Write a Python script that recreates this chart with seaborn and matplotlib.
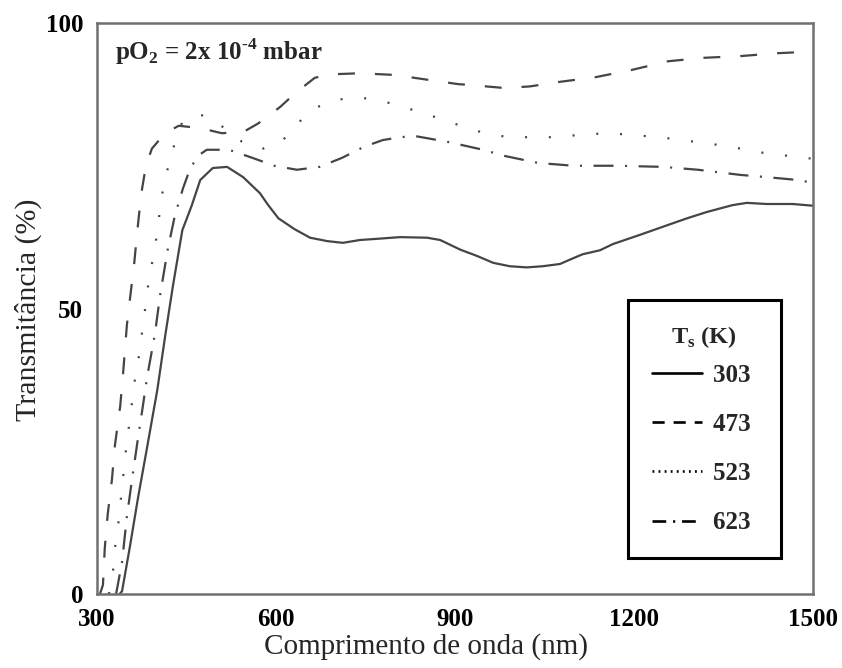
import numpy as np
import pandas as pd
import matplotlib
matplotlib.use("Agg")
import matplotlib.pyplot as plt
import seaborn as sns
from matplotlib.lines import Line2D

# ---------------- data ----------------
wl_303 = [338, 342, 355, 369, 384, 401, 414, 427, 443, 459, 473, 494, 518, 545,
          573, 587, 604, 631, 657, 686, 712, 741, 769, 808, 853, 875, 909, 937,
          964, 992, 1020, 1047, 1076, 1098, 1114, 1143, 1165, 1210, 1248, 1289,
          1322, 1365, 1389, 1422, 1466, 1500]
T_303 = [0, 0.5, 8.2, 17, 25.7, 35.7, 45, 53.8, 63.7, 68.1, 72.5, 74.6, 74.8, 73,
         70.2, 68.1, 65.8, 63.9, 62.4, 61.8, 61.5, 62, 62.2, 62.5, 62.4, 62,
         60.3, 59.2, 58, 57.4, 57.2, 57.4, 57.8, 58.8, 59.5, 60.2, 61.3, 62.9,
         64.3, 65.8, 66.9, 68.1, 68.5, 68.3, 68.3, 68.0]

wl_473 = [305, 310, 313, 318, 325, 330, 339, 344, 350, 355, 362, 367, 374, 382,
          392, 414, 437, 473, 509, 545, 570, 607, 632, 665, 690, 741, 799, 858,
          905, 930, 984, 1026, 1076, 1135, 1197, 1257, 1316, 1378, 1438, 1500]
T_473 = [0, 1.6, 8, 14, 20, 26, 33, 39, 47, 51.5, 57.5, 63, 70, 75, 78, 80.7,
         82, 81.6, 80.7, 80.9, 82.4, 85.3, 87.7, 90.4, 91, 91.2, 90.9, 90, 89.3,
         89.1, 88.6, 88.9, 89.7, 90.5, 91.8, 93.3, 93.9, 94.2, 94.7, 95]

wl_523 = [320, 327, 330, 335, 342, 350, 355, 364, 370, 375, 380, 384, 390, 397,
          402, 406, 412, 421, 431, 444, 479, 514, 543, 576, 610, 637, 665, 699,
          736, 771, 808, 846, 883, 920, 954, 990, 1026, 1062, 1098, 1136, 1171,
          1207, 1243, 1280, 1316, 1352, 1389, 1425, 1481, 1500]
T_523 = [0, 4.2, 8, 11.6, 18.7, 26.6, 30.5, 38, 41.5, 45.4, 49.4, 52.9, 56.7,
         60.6, 64.1, 67.8, 71.8, 75.5, 79.2, 83, 83.9, 81.6, 79.2, 77.9, 79.3,
         82.5, 85.1, 86.5, 87, 86.5, 85.5, 84.2, 83, 81.6, 80.6, 80, 80, 80,
         80.3, 80.6, 80.6, 80.3, 80, 79.5, 79, 78.5, 77.8, 77.1, 76.5, 76.2]

wl_623 = [332, 342, 350, 360, 369, 377, 384, 397, 406, 419, 431, 444, 456, 470,
          484, 521, 560, 597, 635, 673, 711, 747, 779, 808, 833, 887, 947, 984,
          1039, 1098, 1173, 1249, 1307, 1378, 1423, 1475, 1500]
T_623 = [0, 5.6, 13.5, 21, 27.5, 33, 38, 45.5, 52.5, 60.6, 66.5, 71, 74.5, 76.8,
         77.8, 77.8, 76.4, 75, 74.3, 74.8, 76.4, 78.3, 79.5, 80, 80.2, 79.2, 77.8,
         76.7, 75.5, 75, 75, 74.8, 74.3, 73.4, 73, 72.5, 72]

series_labels = ["303", "473", "523", "623"]
x_ticks = [300, 600, 900, 1200, 1500]
y_ticks = [0, 50, 100]

# ---------------- styling ----------------
sns.set_theme(style="white")
plt.rcParams['font.family'] = ['Liberation Serif', 'DejaVu Serif']
plt.rcParams['mathtext.fontset'] = 'custom'
plt.rcParams['mathtext.rm'] = 'Liberation Serif'
plt.rcParams['mathtext.bf'] = 'Liberation Serif:bold'

LINE_COL = '#454545'
LW = 1.6

df = pd.concat([
    pd.DataFrame({'wl': wl_303, 'T': T_303, 'Ts': '303'}),
    pd.DataFrame({'wl': wl_473, 'T': T_473, 'Ts': '473'}),
    pd.DataFrame({'wl': wl_523, 'T': T_523, 'Ts': '523'}),
    pd.DataFrame({'wl': wl_623, 'T': T_623, 'Ts': '623'}),
], ignore_index=True)

dash_map = {'303': '', '473': (7.6, 9.0), '523': (0.9, 9.8),
            '623': (9.0, 5.2, 0.9, 5.2)}
# denser patterns used only for the legend keys (as in the reference)
legend_dashes = {'303': None, '473': (4.6, 3.4), '523': (0.7, 1.6),
                 '623': (5.2, 2.6, 0.8, 2.6)}

fig = plt.figure(figsize=(8.42, 6.68), dpi=100)
ax = fig.add_axes([97 / 842, 1 - 594 / 668, (813 - 97) / 842, (594 - 23) / 668])

sns.lineplot(data=df, x='wl', y='T', style='Ts', style_order=series_labels,
             dashes=dash_map, color=LINE_COL, linewidth=LW, sort=False,
             estimator=None, ax=ax, legend=False)

ax.set_xlim(300, 1500)
ax.set_ylim(0, 100)
ax.set_xticks(x_ticks)
ax.set_yticks(y_ticks)
ax.tick_params(axis='both', direction='in', length=9, width=1.4, color='#707070',
               labelsize=18, labelcolor='black')
ax.tick_params(axis='x', pad=10)
ax.tick_params(axis='y', pad=10)
for lbl in ax.get_xticklabels() + ax.get_yticklabels():
    lbl.set_fontweight('bold')

for sp in ax.spines.values():
    sp.set_visible(True)
    sp.set_color('#707070')
    sp.set_linewidth(1.8)

ax.set_xlabel('Comprimento de onda (nm)', fontsize=21)
ax.set_ylabel('Transmitância (%)', fontsize=21.5)
ax.xaxis.label.set_va('center')
ax.yaxis.label.set_va('center')
ax.xaxis.set_label_coords((426 - 97) / 716, (594 - 647) / 571)
ax.yaxis.set_label_coords((28 - 97) / 716, (594 - 310) / 571)

ax.text(0.025, 0.935, 'pO$_\\mathbf{2}$ = 2x 10$^\\mathbf{\u20104}$ mbar',
        transform=ax.transAxes, fontsize=18, fontweight='bold', va='baseline',
        ha='left')

handles = []
for s in series_labels:
    d = legend_dashes[s]
    if d is None:
        handles.append(Line2D([], [], color='black', lw=1.9, linestyle='-'))
    else:
        handles.append(Line2D([], [], color='black', lw=1.9, dashes=d))

leg = ax.legend(handles, [s + ' ' for s in series_labels],
                title=r'T$_\mathbf{s}$ (K)', loc='upper left',
                bbox_to_anchor=((628 - 97) / 716, (594 - 300) / 571),
                borderaxespad=0, prop={'weight': 'bold', 'size': 18},
                title_fontproperties={'weight': 'bold', 'size': 17.5},
                handlelength=2.0, handletextpad=0.45, labelspacing=1.05,
                borderpad=0.95, fancybox=False, framealpha=1, frameon=True)
leg.get_frame().set_edgecolor('black')
leg.get_frame().set_linewidth(2.2)
leg._legend_box.sep = 10

fig.savefig('out.png', dpi=100)
